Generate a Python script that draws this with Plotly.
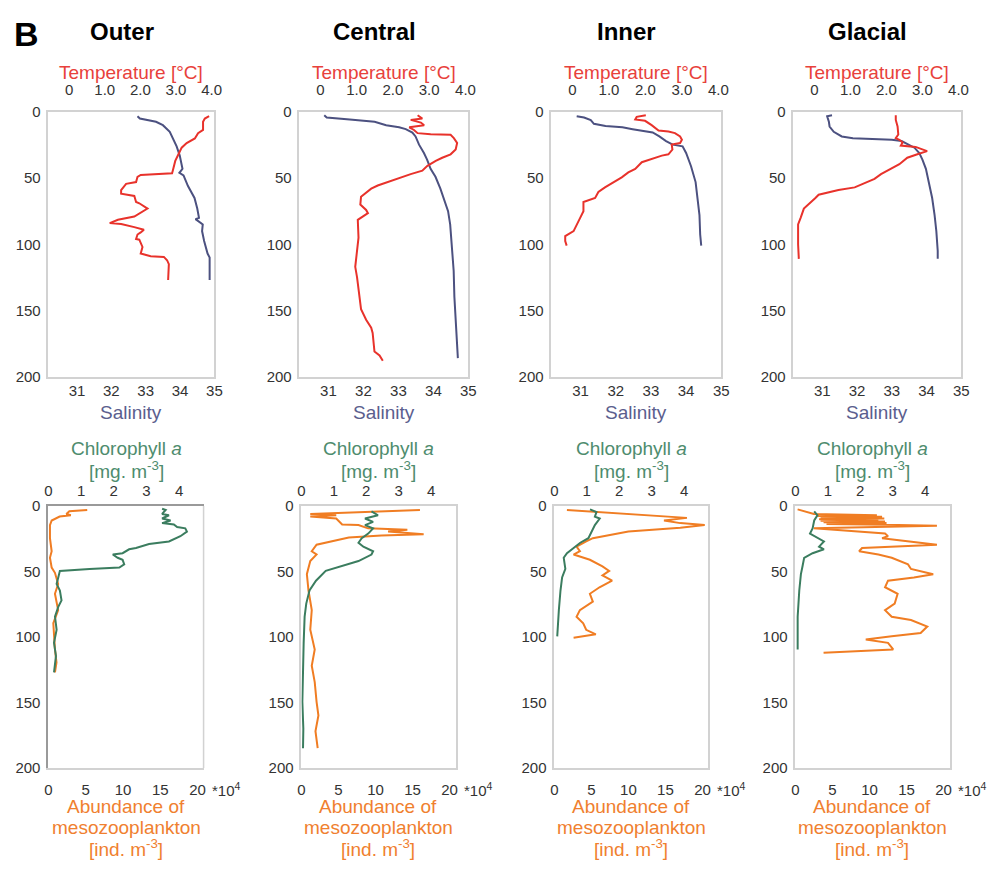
import plotly.graph_objects as go

W, H = 1000, 870
def fx(px): return px / W
def fy(py): return 1 - py / H

# ---------------- tick labels / categories ----------------
regions = ["Outer", "Central", "Inner", "Glacial"]
depth_ticks = [0, 50, 100, 150, 200]
sal_ticks = [31, 32, 33, 34, 35]
temp_ticks = [0, 1, 2, 3, 4]
temp_ticklabels = ["0", "1.0", "2.0", "3.0", "4.0"]
chl_ticks = [0, 1, 2, 3, 4]
abund_ticks = [0, 5, 10, 15, 20]

# ---------------- Outer ----------------
outer_sal_d = [3.2, 5, 7.4, 10, 15, 26, 33, 43, 46, 48, 56, 65, 73, 80, 81, 85, 90, 97.5, 107, 110, 127]
outer_sal = [32.76, 32.83, 33.3, 33.5, 33.7, 33.9, 33.99, 34.07, 33.98, 34.1, 34.23, 34.42, 34.5, 34.55, 34.45, 34.66, 34.64, 34.7, 34.8, 34.86, 34.86]
outer_temp_d = [3.2, 5, 7.4, 13.6, 16, 20, 23.5, 27, 32, 37, 44.4, 46.4, 47.6, 49, 53, 54.3, 59, 61.7, 63.5, 68, 69, 73, 79, 81.5, 84, 84.7, 87, 89, 91, 92.6, 96, 96.5, 102, 107, 109, 109.5, 112, 115, 127]
outer_temp = [3.93, 3.81, 3.76, 3.76, 3.62, 3.53, 3.30, 3.16, 3.07, 2.98, 2.91, 2.89, 2.01, 1.92, 1.88, 1.60, 1.46, 1.46, 1.83, 1.88, 1.97, 2.20, 1.83, 1.37, 1.14, 1.46, 1.83, 2.10, 2.01, 1.92, 1.88, 1.97, 2.06, 2.01, 2.29, 2.66, 2.75, 2.80, 2.78]
outer_chl_d = [2, 3, 6, 7, 9.5, 11, 13, 14, 16, 17, 19.5, 23, 27, 29, 32, 33, 36, 37, 39.5, 41, 44.5, 47, 48, 49.5, 54.5, 59.5, 64.5, 72, 77, 84.5, 94.5, 104.5, 114.5, 124.5, 127]
outer_chl = [3.48, 3.59, 3.48, 3.69, 3.48, 3.74, 3.48, 3.84, 3.94, 4.19, 4.24, 4.04, 3.69, 3.08, 2.68, 2.47, 2.27, 1.97, 2.12, 2.27, 2.32, 2.17, 1.26, 0.35, 0.30, 0.25, 0.35, 0.40, 0.30, 0.20, 0.25, 0.17, 0.23, 0.20, 0.17]
outer_abund_d = [3, 4, 6, 7, 8, 11, 14.5, 24.5, 34.5, 39.5, 47, 51, 59.5, 67, 79.5, 89.5, 109.5, 119.5, 127]
outer_abund = [5.2, 2.8, 2.4, 3.0, 1.5, 0.43, 0.2, 0.2, 0.43, 0.2, 0.43, 0.87, 1.3, 0.87, 1.3, 0.65, 0.87, 1.08, 0.87]

# ---------------- Central ----------------
central_sal_d = [2.5, 4.2, 5.7, 6.7, 7.4, 10, 11.6, 13, 15.6, 18.5, 24.7, 31, 36, 43, 49, 58, 68, 75, 85, 100, 120, 139.5, 159, 174, 186]
central_sal = [30.88, 30.95, 31.61, 31.99, 32.32, 32.65, 33.02, 33.21, 33.4, 33.49, 33.59, 33.73, 33.82, 33.92, 34.06, 34.2, 34.34, 34.42, 34.48, 34.53, 34.58, 34.6, 34.64, 34.67, 34.7]
central_temp_d = [2.5, 5, 6, 8, 10, 11.6, 13.6, 16, 16.8, 17.3, 19.8, 23.5, 28.4, 32, 34.6, 37, 40.7, 44.4, 47, 49.4, 52, 54, 55.6, 58, 61.7, 64, 70, 74, 76.5, 79, 81.5, 95, 107, 117, 125, 139.5, 149, 157, 163, 167, 181, 184, 188]
central_temp = [2.68, 2.81, 2.49, 2.77, 2.86, 2.45, 2.58, 2.68, 3.04, 3.59, 3.68, 3.77, 3.73, 3.59, 3.36, 3.18, 2.95, 2.81, 2.49, 2.22, 1.95, 1.76, 1.58, 1.40, 1.22, 1.12, 1.10, 1.26, 1.31, 1.17, 1.03, 1.05, 1.01, 0.96, 1.01, 1.08, 1.12, 1.26, 1.40, 1.44, 1.49, 1.63, 1.72]
central_chl_d = [4, 7, 9.5, 12, 14.5, 17, 21, 24.5, 28, 31, 34.5, 37, 42, 46, 49.5, 57, 64.5, 74.5, 84.5, 104.5, 124.5, 149.5, 170, 185]
central_chl = [2.16, 2.36, 1.96, 2.21, 1.96, 2.21, 2.06, 1.86, 1.76, 1.91, 2.21, 2.16, 1.76, 1.26, 0.75, 0.45, 0.25, 0.15, 0.10, 0.07, 0.05, 0.03, 0.06, 0.05]
central_abund_d = [3, 4, 6, 7, 8, 9.5, 12, 14, 14.5, 17, 18, 19.5, 21.5, 22.5, 24, 27.5, 29.5, 34.5, 37, 42, 52, 64.5, 79.5, 94.5, 109.5, 122, 134.5, 149.5, 160, 172, 185]
central_abund = [16.0, 9.9, 1.2, 4.7, 1.2, 4.7, 5.1, 5.5, 7.7, 9.0, 14.3, 11.7, 16.5, 10.8, 6.4, 3.4, 2.05, 1.4, 2.05, 1.2, 0.74, 0.96, 1.4, 1.2, 1.8, 1.4, 1.8, 2.05, 2.3, 1.9, 2.2]

# ---------------- Inner ----------------
inner_sal_d = [3.2, 4.2, 6.2, 9, 10.6, 11.6, 13, 14, 15.5, 18.5, 22, 24.7, 26, 31, 41, 53, 65, 78, 92.6, 101]
inner_sal = [30.89, 31.1, 31.29, 31.38, 31.71, 32.19, 32.48, 32.76, 33.05, 33.24, 33.43, 33.62, 33.9, 34.0, 34.14, 34.27, 34.33, 34.38, 34.4, 34.43]
inner_temp_d = [2.5, 3.7, 5.7, 6.7, 10, 14, 14.8, 16, 18.5, 21, 23.5, 24.7, 28.4, 32, 33, 36, 38, 43, 45.7, 49.4, 53, 57, 60.5, 65, 68, 75, 80, 85, 90, 93.8, 97.5, 101]
inner_temp = [2.01, 1.76, 1.72, 1.99, 2.17, 2.36, 2.63, 2.81, 2.95, 3.0, 2.95, 2.72, 2.74, 2.63, 2.45, 2.13, 1.9, 1.72, 1.53, 1.35, 1.12, 0.89, 0.71, 0.62, 0.3, 0.3, 0.21, 0.12, 0.03, -0.2, -0.2, -0.16]
inner_chl_d = [2.5, 4.5, 8, 9.5, 14.5, 19.5, 24.5, 28, 32, 36, 39.5, 48, 54.5, 64.5, 79.5, 94.5, 99.5]
inner_chl = [1.1, 1.3, 1.25, 1.4, 1.25, 1.15, 1.05, 0.8, 0.6, 0.39, 0.29, 0.34, 0.24, 0.19, 0.14, 0.09, 0.09]
inner_abund_d = [3, 4, 6, 7, 8, 9, 11, 13, 14.5, 16.5, 19.5, 22, 24.5, 27, 31, 34.5, 37, 41, 46, 49.5, 53, 57, 62, 67, 73, 79.5, 84.5, 89.5, 94.5, 98, 100.5]
inner_abund = [1.7, 4.3, 10.0, 12.2, 15.2, 17.9, 14.8, 17.0, 20.3, 17.0, 10.0, 7.4, 5.2, 4.3, 3.0, 3.45, 2.6, 4.8, 6.5, 7.4, 6.5, 7.8, 6.1, 4.8, 5.2, 3.45, 3.0, 3.9, 4.3, 5.6, 2.6]

# ---------------- Glacial ----------------
glacial_sal_d = [2.5, 3.2, 7.4, 11, 15, 18.5, 19.8, 20.5, 21, 22, 24.7, 27, 31, 36, 43, 53, 65, 78, 90, 105, 111]
glacial_sal = [31.28, 31.14, 31.19, 31.21, 31.33, 31.56, 31.88, 32.44, 33.0, 33.28, 33.47, 33.65, 33.79, 33.88, 33.98, 34.07, 34.16, 34.23, 34.28, 34.32, 34.32]
glacial_temp_d = [2.5, 6, 11, 17, 19.8, 21, 23, 25.4, 26.4, 29.6, 32, 34.6, 39.5, 43, 47, 50.6, 54, 57, 59, 61, 62.5, 65, 70, 73, 80, 85, 100, 111]
glacial_temp = [2.26, 2.26, 2.31, 2.33, 2.26, 2.36, 2.45, 2.4, 2.81, 3.13, 2.86, 2.58, 2.36, 2.13, 1.85, 1.67, 1.4, 1.12, 0.67, 0.3, 0.12, 0.03, -0.16, -0.29, -0.38, -0.45, -0.45, -0.43]
glacial_chl_d = [4, 7, 11, 17, 21, 24.5, 27, 31, 33, 36, 39.5, 46, 52, 64.5, 84.5, 109.5]
glacial_chl = [0.58, 0.68, 0.58, 0.53, 0.45, 0.68, 0.88, 0.73, 0.88, 0.53, 0.27, 0.22, 0.17, 0.12, 0.07, 0.07]
glacial_abund_d = [2.5, 6, 7, 7.6, 8.2, 8.8, 9.4, 10, 10.6, 11.2, 11.8, 12.4, 13, 13.6, 14.2, 15, 17, 21, 23, 24.5, 29.5, 32, 34.5, 37, 39.5, 44.5, 48, 52, 54.5, 57, 62, 67, 74.5, 79.5, 84.5, 87, 92, 97, 99.5, 102, 104.5, 109.5, 112]
glacial_abund = [0.3, 2.5, 11.0, 3.0, 11.7, 3.4, 12.0, 3.2, 11.2, 3.4, 12.1, 3.8, 12.3, 4.2, 12.1, 19.1, 2.5, 12.1, 12.5, 11.7, 19.1, 9.0, 8.6, 11.2, 13.0, 15.2, 15.6, 18.6, 16.0, 12.5, 12.1, 13.8, 13.4, 12.1, 13.0, 15.6, 17.8, 16.9, 13.0, 9.5, 12.5, 13.2, 3.8]

# ---------------- styling ----------------
C_TEMP, C_SAL, C_CHL, C_AB = "#e8322b", "#4c5180", "#3b7d5f", "#f07d23"
T_TEMP, T_SAL, T_CHL, T_AB = "#e8413b", "#5b5e8e", "#4e8c6e", "#f0802f"
FRAME = "#d2d2d2"
FONT = "Arial, Liberation Sans, sans-serif"
TICKF = dict(family=FONT, size=15, color="#333333")

top_boxes = [(45, 213), (299, 470), (554, 726), (799, 969)]
bot_boxes = [(45, 202), (301, 457), (557, 713), (801, 957)]
TOP_Y, BOT_Y = (105, 375), (507, 774)
SAL_RANGE, TEMP_RANGE = [30.17, 35.0], [-0.58, 4.08]
CHL_RANGE, AB_RANGE = [0, 4.75], [0, 20.8]

top_data = [
    (outer_sal, outer_sal_d, outer_temp, outer_temp_d),
    (central_sal, central_sal_d, central_temp, central_temp_d),
    (inner_sal, inner_sal_d, inner_temp, inner_temp_d),
    (glacial_sal, glacial_sal_d, glacial_temp, glacial_temp_d),
]
bot_data = [
    (outer_abund, outer_abund_d, outer_chl, outer_chl_d),
    (central_abund, central_abund_d, central_chl, central_chl_d),
    (inner_abund, inner_abund_d, inner_chl, inner_chl_d),
    (glacial_abund, glacial_abund_d, glacial_chl, glacial_chl_d),
]

fig = go.Figure()
layout = {}
shapes = []
ann = []

def axname(n, kind):
    return kind + ("" if n == 1 else str(n))

panel = 0
for row in range(2):
    for col in range(4):
        bx = top_boxes[col] if row == 0 else bot_boxes[col]
        by = TOP_Y if row == 0 else BOT_Y
        nb, nt, ny = 2 * panel + 1, 2 * panel + 2, panel + 1
        xb, xt, yy = axname(nb, "x"), axname(nt, "x"), axname(ny, "y")
        dom_x = [fx(bx[0]), fx(bx[1])]
        dom_y = [fy(by[1]), fy(by[0])]
        special = (row == 1 and col == 0)
        if row == 0:
            b_vals, b_d, t_vals, t_d = top_data[col]
            b_range, t_range = SAL_RANGE, TEMP_RANGE
            b_ticks, b_text = sal_ticks, [str(v) for v in sal_ticks]
            t_ticks, t_text = temp_ticks, temp_ticklabels
            b_col, t_col = C_SAL, C_TEMP
            b_stand, t_stand = 0, 9
        else:
            b_vals, b_d, t_vals, t_d = bot_data[col]
            b_range, t_range = AB_RANGE, CHL_RANGE
            b_ticks, b_text = abund_ticks, [str(v) for v in abund_ticks]
            t_ticks, t_text = chl_ticks, [str(v) for v in chl_ticks]
            b_col, t_col = C_AB, C_CHL
            b_stand, t_stand = 7, 2
        fig.add_trace(go.Scatter(x=b_vals, y=b_d, mode="lines", line=dict(color=b_col, width=2),
                                 xaxis=xb, yaxis=yy, showlegend=False))
        fig.add_trace(go.Scatter(x=t_vals, y=t_d, mode="lines", line=dict(color=t_col, width=2),
                                 xaxis=xt, yaxis=yy, showlegend=False))
        layout["xaxis" + ("" if nb == 1 else str(nb))] = dict(
            domain=dom_x, anchor=yy, side="bottom", range=b_range, tickvals=b_ticks, ticktext=b_text,
            showgrid=False, zeroline=False, showline=True, linecolor=FRAME, linewidth=1.5, mirror=False,
            ticks="", tickfont=TICKF, ticklabelstandoff=b_stand, fixedrange=True)
        layout["xaxis" + str(nt)] = dict(
            domain=dom_x, anchor=yy, side="top", overlaying=xb, range=t_range, tickvals=t_ticks, ticktext=t_text,
            showgrid=False, zeroline=False, showline=True,
            linecolor="#9a9a9a" if special else FRAME, linewidth=2 if special else 1.5,
            ticks="", tickfont=TICKF, ticklabelstandoff=t_stand, fixedrange=True)
        layout["yaxis" + ("" if ny == 1 else str(ny))] = dict(
            domain=dom_y, anchor=xb, range=[200, 0], tickvals=depth_ticks,
            showgrid=False, zeroline=False, showline=True,
            linecolor="#9a9a9a" if special else FRAME, linewidth=2 if special else 1.5,
            mirror=not special, ticks="", tickfont=TICKF, ticklabelstandoff=3, fixedrange=True)
        if special:
            shapes.append(dict(type="line", xref=xb + " domain", yref=yy + " domain", x0=1, x1=1, y0=0, y1=1,
                               line=dict(color=FRAME, width=1.5)))
        panel += 1

def add_text(txt, px, py, size=19, color="#000", bold=False, xanchor="center"):
    ann.append(dict(text=("<b>%s</b>" % txt) if bold else txt, x=fx(px), y=fy(py), xref="paper", yref="paper",
                    showarrow=False, xanchor=xanchor, yanchor="middle",
                    font=dict(family=FONT, size=size, color=color)))

add_text("B", 8, 25, size=34, bold=True, xanchor="left")
for col in range(4):
    tcx = (top_boxes[col][0] + top_boxes[col][1]) / 2
    bcx = (bot_boxes[col][0] + bot_boxes[col][1]) / 2
    add_text(regions[col], tcx - 10, 23, size=24, bold=True)
    add_text("Temperature [°C]", tcx, 65, color=T_TEMP)
    add_text("Salinity", tcx, 412, color=T_SAL)
    add_text("Chlorophyll <i>a</i>", bcx, 448, color=T_CHL)
    add_text("[mg. m<sup>-3</sup>]", bcx, 470, color=T_CHL)
    add_text("Abundance of", bcx, 813, color=T_AB)
    add_text("mesozooplankton", bcx, 835, color=T_AB)
    add_text("[ind. m<sup>-3</sup>]", bcx, 856, color=T_AB)
    add_text("*10<sup>4</sup>", bot_boxes[col][1] + 7, 796, size=15, color="#333333", xanchor="left")

layout.update(dict(width=W, height=H, margin=dict(l=0, r=0, t=0, b=0), paper_bgcolor="white",
                   plot_bgcolor="white", showlegend=False, annotations=ann, shapes=shapes,
                   font=dict(family=FONT)))
fig.update_layout(**layout)
fig.write_html("out.html")
